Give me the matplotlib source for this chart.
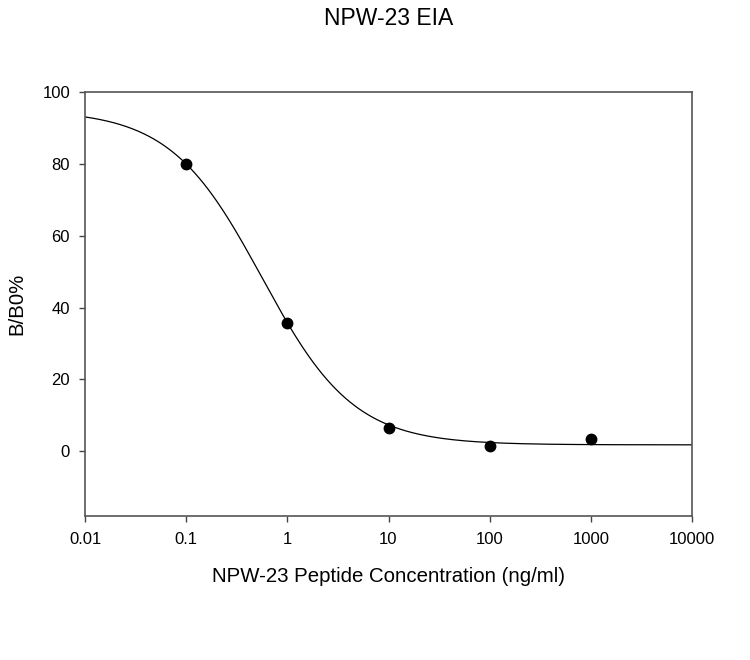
import numpy as np
import matplotlib
matplotlib.use("Agg")
import matplotlib.pyplot as plt

plt.rcParams['font.family'] = ['Liberation Sans', 'DejaVu Sans']

# Measured points
conc = [0.1, 1, 10, 100, 1000]
bb0 = [80.0, 35.8, 6.5, 1.5, 3.3]

# 4-parameter logistic fit parameters
fit_top = 95.0
fit_bottom = 1.8
fit_ec50 = 0.56
fit_hill = 0.957

x_ticks = [0.01, 0.1, 1, 10, 100, 1000, 10000]
x_tick_labels = ["0.01", "0.1", "1", "10", "100", "1000", "10000"]
y_ticks = [0, 20, 40, 60, 80, 100]

fig = plt.figure(figsize=(7.5, 6.6), dpi=100)
ax = fig.add_axes([85/750, 1-516/660, (692-85)/750, (516-92)/660])

xc = np.logspace(-2, 4, 400)
yc = fit_bottom + (fit_top - fit_bottom) / (1 + (xc / fit_ec50) ** fit_hill)
ax.plot(xc, yc, color='black', lw=0.9)
ax.plot(conc, bb0, 'o', color='black', markersize=7.5)

ax.set_xscale('log')
ax.set_xlim(0.01, 10000)
ax.set_ylim(-18, 100)
ax.set_xticks(x_ticks)
ax.set_xticklabels(x_tick_labels)
ax.xaxis.set_minor_locator(matplotlib.ticker.NullLocator())
ax.set_yticks(y_ticks)
ax.tick_params(direction='out', length=4.3, width=1, labelsize=12, colors='#444444', labelcolor='black')
ax.tick_params(axis='x', pad=7.5)
ax.tick_params(axis='y', pad=6.5)
for s in ax.spines.values():
    s.set_color('#555555')
    s.set_linewidth(1.2)

ax.set_xlabel("NPW-23 Peptide Concentration (ng/ml)", fontsize=14.7)
ax.set_ylabel("B/B0%", fontsize=14.7)
ax.xaxis.set_label_coords(0.5, -(576-516)/424, transform=ax.transAxes)
ax.xaxis.label.set_va('center')
ax.yaxis.set_label_coords(-(85-17)/607, 0.5, transform=ax.transAxes)
ax.yaxis.label.set_va('center')
fig.text(388.5/750, 1-18.5/660, "NPW-23 EIA", ha='center', va='center', fontsize=16.5)

fig.savefig("out.png", dpi=100)
